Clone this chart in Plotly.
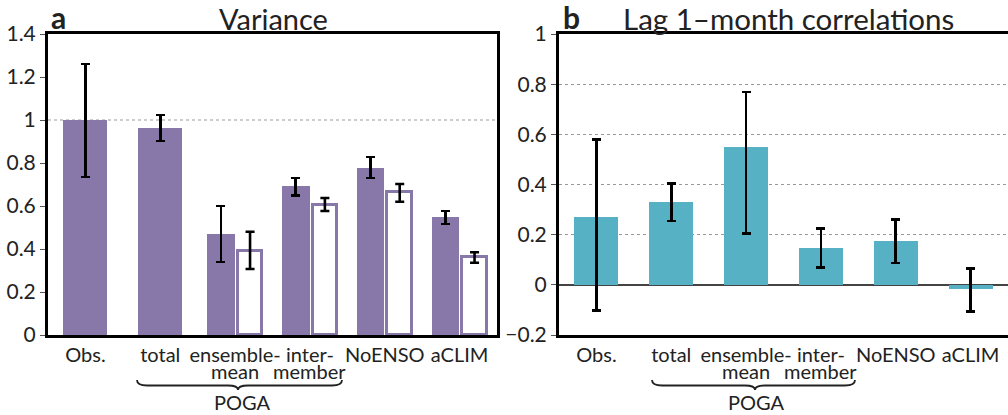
import plotly.graph_objects as go

# ---------------- data ----------------
categories = ["Obs.", "total", "ensemble-", "inter-", "NoENSO", "aCLIM"]
categories_line2 = ["", "", "mean", "member", "", ""]

# Panel a: variance (filled bars)
var_filled = [1.0, 0.963, 0.468, 0.692, 0.776, 0.548]
var_filled_hi = [1.26, 1.023, 0.60, 0.73, 0.828, 0.577]
var_filled_lo = [0.735, 0.902, 0.34, 0.65, 0.73, 0.516]

# Panel a: open bars (ensemble-mean, inter-member, NoENSO, aCLIM)
open_idx = [2, 3, 4, 5]
var_open = [0.393, 0.605, 0.663, 0.362]
var_open_hi = [0.48, 0.637, 0.702, 0.385]
var_open_lo = [0.307, 0.577, 0.62, 0.336]

# Panel b: lag-1-month correlations
corr = [0.269, 0.329, 0.549, 0.146, 0.176, -0.017]
corr_hi = [0.58, 0.403, 0.769, 0.224, 0.26, 0.065]
corr_lo = [-0.102, 0.254, 0.205, 0.070, 0.087, -0.106]

yticks_a = [0, 0.2, 0.4, 0.6, 0.8, 1, 1.2, 1.4]
yticks_b = [-0.2, 0, 0.2, 0.4, 0.6, 0.8, 1]

# ---------------- style ----------------
W, H = 1008, 415
PURPLE = "#8878aa"
TEAL = "#57b1c4"
FONT = "Lato"
single_w = 0.59
pair_w = 0.37
open_w = 0.33
pair_off_f = -0.19
pair_off_o = 0.20


def px_x(p):
    return p / W


def px_y(p):
    return (H - p) / H


def fmt_tick(v):
    s = ("%g" % abs(v))
    return ("\u2212" + s) if v < 0 else s


fig = go.Figure()

xa_f = []
wa_f = []
for i in range(len(categories)):
    if i in open_idx:
        xa_f.append(i + pair_off_f)
        wa_f.append(pair_w)
    else:
        xa_f.append(i)
        wa_f.append(single_w)

err = dict(type="data", symmetric=False, color="black", thickness=2.6, width=4.5)

fig.add_trace(go.Bar(
    x=xa_f, y=var_filled, width=wa_f, marker=dict(color=PURPLE, line=dict(width=0)),
    error_y=dict(err, array=[h - v for h, v in zip(var_filled_hi, var_filled)],
                 arrayminus=[v - l for l, v in zip(var_filled_lo, var_filled)]),
    xaxis="x", yaxis="y", showlegend=False))

fig.add_trace(go.Bar(
    x=[i + pair_off_o for i in open_idx], y=var_open, width=open_w,
    marker=dict(color="white", line=dict(width=3, color=PURPLE)),
    error_y=dict(err, array=[h - v for h, v in zip(var_open_hi, var_open)],
                 arrayminus=[v - l for l, v in zip(var_open_lo, var_open)]),
    xaxis="x", yaxis="y", showlegend=False))

fig.add_trace(go.Bar(
    x=list(range(len(categories))), y=corr, width=single_w,
    marker=dict(color=TEAL, line=dict(width=0)),
    error_y=dict(err, array=[h - v for h, v in zip(corr_hi, corr)],
                 arrayminus=[v - l for l, v in zip(corr_lo, corr)]),
    xaxis="x2", yaxis="y2", showlegend=False))

axis_common = dict(showline=True, mirror=True, linewidth=3, linecolor="black",
                   automargin=False,
                   tickfont=dict(family=FONT, size=21, color="#222"))

ydom = [px_y(335), px_y(34)]
fig.update_layout(
    width=W, height=H, margin=dict(l=0, r=0, t=0, b=0, autoexpand=False),
    paper_bgcolor="white", plot_bgcolor="white",
    barmode="overlay", bargap=0,
    font=dict(family=FONT, color="#222"),
    xaxis=dict(axis_common, domain=[px_x(48), px_x(497)], range=[-0.5, 5.5],
               tickvals=list(range(len(categories))), ticktext=categories,
               ticks="", showgrid=False, zeroline=False, anchor="y",
               tickfont=dict(family=FONT, size=20, color="#222")),
    yaxis=dict(axis_common, domain=ydom, range=[0, 1.4],
               tickvals=yticks_a, ticktext=[fmt_tick(v) for v in yticks_a],
               ticks="outside", ticklen=5, tickwidth=1.2, tickcolor="#555",
               showgrid=False, zeroline=False, anchor="x"),
    xaxis2=dict(axis_common, domain=[px_x(559), 1.0], range=[-0.5, 5.5],
                tickvals=list(range(len(categories))), ticktext=categories,
                ticks="", showgrid=False, zeroline=False, anchor="y2",
                tickfont=dict(family=FONT, size=20, color="#222")),
    yaxis2=dict(axis_common, domain=ydom, range=[-0.2, 1], mirror=False,
                tickvals=yticks_b, ticktext=[fmt_tick(v) for v in yticks_b],
                ticks="outside", ticklen=5, tickwidth=1.2, tickcolor="#555",
                showgrid=True, gridcolor="#999", gridwidth=1.2, griddash="3px,3px",
                zeroline=True, zerolinecolor="#444", zerolinewidth=1.5, anchor="x2"),
)

fig.add_shape(type="line", xref="x domain", yref="y", x0=0, x1=1, y0=1, y1=1,
              line=dict(color="#999", width=1.2, dash="3px,3px"), layer="below")

annotations = []
for xa in ["x", "x2"]:
    for i, t in enumerate(categories_line2):
        if t:
            annotations.append(dict(x=i, y=px_y(371), xref=xa, yref="paper", text=t,
                                    showarrow=False, xanchor="center", yanchor="middle",
                                    font=dict(family=FONT, size=20, color="#222")))


def brace(x0, x1, xc, ytop=380, ymid=385.5, ybot=390):
    X0, X1, XC = px_x(x0), px_x(x1), px_x(xc)
    yt, ym, yb = px_y(ytop), px_y(ymid), px_y(ybot)
    d = 10 / W
    return (f"M {X0},{yt} Q {X0},{ym} {X0 + d},{ym} L {XC - d},{ym} "
            f"Q {XC},{ym} {XC},{yb} Q {XC},{ym} {XC + d},{ym} "
            f"L {X1 - d},{ym} Q {X1},{ym} {X1},{yt}")


for (x0, x1, xc, xt) in [(137, 342, 238, 242), (652, 855, 755, 756)]:
    fig.add_shape(type="path", xref="paper", yref="paper", path=brace(x0, x1, xc),
                  line=dict(color="#222", width=1.8))
    annotations.append(dict(x=px_x(xt), y=px_y(402), xref="paper", yref="paper", text="POGA",
                            showarrow=False, xanchor="center", yanchor="middle",
                            font=dict(family=FONT, size=20, color="#222")))

annotations.append(dict(x=px_x(273), y=px_y(19), xref="paper", yref="paper", text="Variance",
                        showarrow=False, xanchor="center", yanchor="middle",
                        font=dict(family=FONT, size=29, color="#222")))
annotations.append(dict(x=px_x(788), y=px_y(19), xref="paper", yref="paper",
                        text="Lag 1\u2013month correlations",
                        showarrow=False, xanchor="center", yanchor="middle",
                        font=dict(family=FONT, size=29.5, color="#222")))
annotations.append(dict(x=px_x(58), y=px_y(17), xref="paper", yref="paper", text="<b>a</b>",
                        showarrow=False, xanchor="center", yanchor="middle",
                        font=dict(family=FONT, size=30, color="#222")))
annotations.append(dict(x=px_x(571), y=px_y(17), xref="paper", yref="paper", text="<b>b</b>",
                        showarrow=False, xanchor="center", yanchor="middle",
                        font=dict(family=FONT, size=30, color="#222")))

fig.update_layout(annotations=annotations)
fig.write_html("out.html", config={"displayModeBar": False},
               post_script="document.body.style.margin='0';document.body.style.overflow='hidden';")
